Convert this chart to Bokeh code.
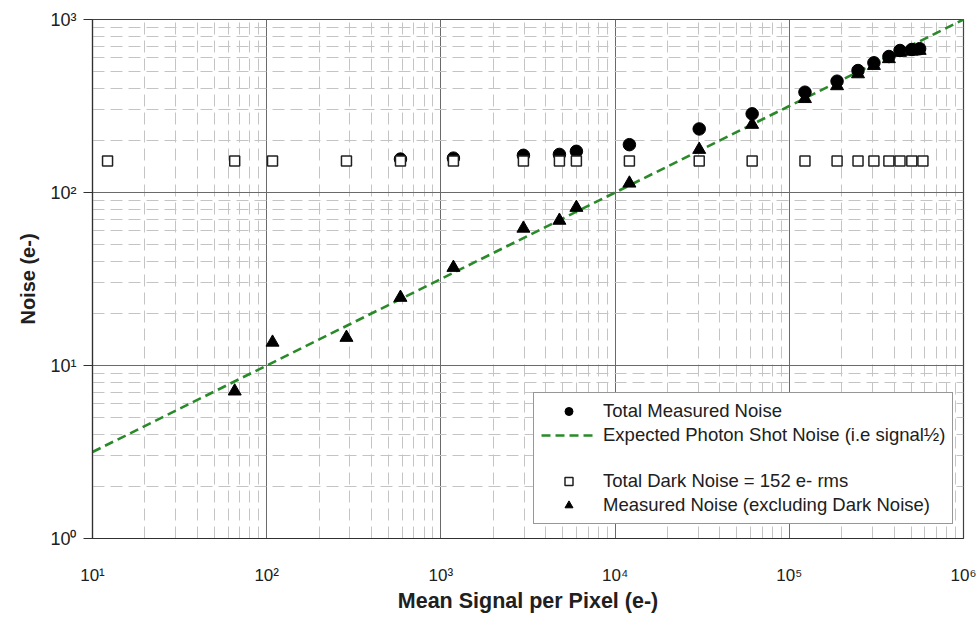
from bokeh.plotting import figure
from bokeh.models import (Range1d, FixedTicker, CustomJSTickFormatter, Legend, LegendItem)
from bokeh.embed import file_html
from bokeh.resources import INLINE

# ---- data -------------------------------------------------------------
signal_dark = [12.2, 65.5, 108, 287, 586, 1180, 2976, 4790, 5995, 12080, 30400, 61200,
               123000, 188000, 248000, 306000, 373000, 432000, 505000, 585000]
dark_noise = [152] * len(signal_dark)

signal_total = [586, 1180, 2976, 4790, 5995, 12080, 30400, 61200,
                123000, 188000, 248000, 306000, 373000, 432000, 505000, 560000]
total_noise = [156, 158, 164, 166, 173, 189, 233, 285,
               380, 440, 507, 562, 611, 662, 671, 678]

signal_meas = [65.5, 108, 287, 586, 1180, 2976, 4790, 5995, 12080, 30400, 61200,
               123000, 188000, 248000, 306000, 373000, 432000, 505000, 560000]
meas_noise = [7.1, 13.6, 14.5, 24.7, 36.8, 62, 68.9, 81.8, 113, 177, 247,
              348, 413, 484, 541, 592, 644, 654, 661]

shot_signal = [10, 100, 1000, 10000, 100000, 1000000]
shot_noise = [3.162, 10, 31.62, 100, 316.2, 1000]

x_major = [10, 100, 1000, 10000, 100000, 1000000]
y_major = [1, 10, 100, 1000]
minor_mult = [2, 3, 4, 5, 6, 7, 8, 9]

FONT = "Liberation Sans"

p = figure(width=980, height=617, x_axis_type="log", y_axis_type="log",
           x_range=Range1d(10, 1e6), y_range=Range1d(1, 1000),
           output_backend="svg", toolbar_location=None,
           min_border_left=92, min_border_right=17, min_border_top=19, min_border_bottom=79)

p.outline_line_color = "#404040"
p.outline_line_width = 1.2
p.background_fill_color = "white"
p.border_fill_color = "white"

x_minor = [m * d for d in x_major[:-1] for m in minor_mult]
y_minor = [m * d for d in y_major[:-1] for m in minor_mult]
p.xaxis.ticker = FixedTicker(ticks=x_major, minor_ticks=x_minor)
p.yaxis.ticker = FixedTicker(ticks=y_major, minor_ticks=y_minor)

fmt = CustomJSTickFormatter(code="""
const s = '\u2070\u00b9\u00b2\u00b3\u2074\u2075\u2076\u2077\u2078\u2079';
const e = Math.round(Math.log10(tick));
return '10' + s[e];
""")
p.xaxis.formatter = fmt
p.yaxis.formatter = fmt

for g in (p.xgrid, p.ygrid):
    g.grid_line_color = "#6a6a6a"
    g.grid_line_width = 1
    g.minor_grid_line_color = "#c4c4c4"
    g.minor_grid_line_width = 1
    g.minor_grid_line_dash = "12 6"

for ax in (p.xaxis, p.yaxis):
    ax.axis_line_color = "#303030"
    ax.axis_line_width = 1.2
    ax.major_tick_line_color = "#303030"
    ax.minor_tick_line_color = None
    ax.major_tick_in = 0
    ax.major_label_text_color = "#202020"
    ax.axis_label_text_color = "#202020"
    ax.axis_label_text_font_style = "bold"

p.yaxis.major_tick_out = 9
p.yaxis.major_label_standoff = 7
p.yaxis.major_label_text_font = FONT
p.yaxis.major_label_text_font_size = "18px"
p.yaxis.axis_label = "Noise (e-)"
p.yaxis.axis_label_text_font = FONT
p.yaxis.axis_label_text_font_size = "20px"
p.yaxis.axis_label_standoff = 8

p.xaxis.major_tick_out = 0
p.xaxis.major_label_standoff = 23
p.xaxis.major_label_text_font = FONT
p.xaxis.major_label_text_font_size = "17px"
p.xaxis.axis_label = "Mean Signal per Pixel (e-)"
p.xaxis.axis_label_text_font = FONT
p.xaxis.axis_label_text_font_size = "21.5px"
p.xaxis.axis_label_standoff = 1

# ---- glyphs -----------------------------------------------------------
shot = p.line(shot_signal, shot_noise, line_color="#2a8a2a", line_width=2.6, line_dash="9 5")
tri = p.scatter(signal_meas, meas_noise, marker="triangle", size=13,
                fill_color="black", line_color="black")
circ = p.scatter(signal_total, total_noise, marker="circle", size=12.5,
                 fill_color="black", line_color="black")
sq = p.scatter(signal_dark, dark_noise, marker="square", size=10,
               fill_color="white", line_color="#202020", line_width=1.5)
blank = p.scatter(x=[], y=[], marker="square", size=1, fill_alpha=0, line_alpha=0)

legend = Legend(items=[
    LegendItem(label="Total Measured Noise", renderers=[circ]),
    LegendItem(label="Expected Photon Shot Noise (i.e signal\u00bd)", renderers=[shot]),
    LegendItem(label=" ", renderers=[blank]),
    LegendItem(label="Total Dark Noise = 152 e- rms", renderers=[sq]),
    LegendItem(label="Measured Noise (excluding Dark Noise)", renderers=[tri]),
], location=(441, 14))
legend.label_text_font = FONT
legend.label_text_font_size = "18.5px"
legend.label_text_color = "#202020"
legend.glyph_width = 55
legend.glyph_height = 20
legend.spacing = 2
legend.padding = 7
legend.margin = 0
legend.label_standoff = 7
legend.border_line_color = "#303030"
legend.border_line_width = 1.5
legend.background_fill_alpha = 1
p.add_layout(legend, "center")

open("out.html", "w").write(file_html(p, INLINE))
